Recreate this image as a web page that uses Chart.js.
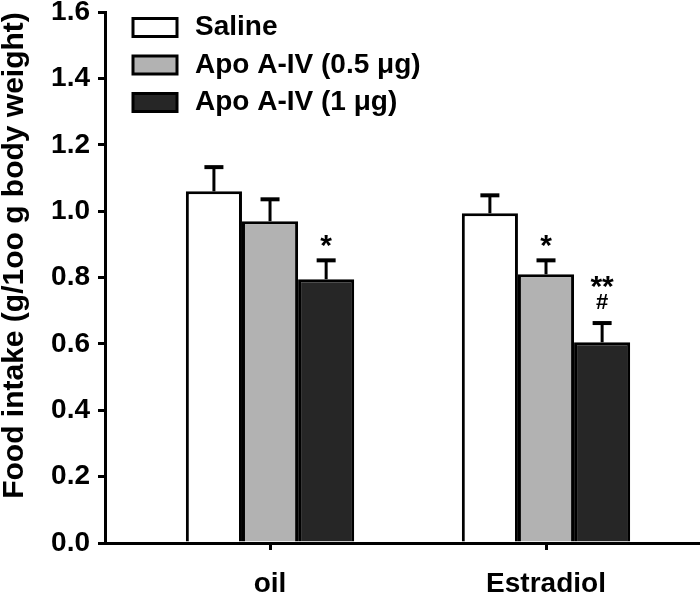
<!DOCTYPE html>
<html>
<head>
<meta charset="utf-8">
<script src="https://cdn.jsdelivr.net/npm/chart.js@4.4.1/dist/chart.umd.min.js"></script>
<style>
  html, body { margin: 0; padding: 0; background: #fff; overflow: hidden; }
  canvas { display: block; }
</style>
</head>
<body>
<canvas id="foodChart" width="700" height="596"></canvas>
<script>
/* -----------------------------
   Data
------------------------------ */
const groups = ['oil', 'Estradiol'];
const groupPos = [1, 2];
const seriesNames = ['Saline', 'Apo A-IV (0.5 \u03bcg)', 'Apo A-IV (1 \u03bcg)'];
const seriesColors = ['#ffffff', '#b2b2b2', '#262626'];

const saline = [1.06, 0.994];
const apo05 = [0.97, 0.81];
const apo1 = [0.795, 0.605];

const salineErr = [0.073, 0.054];
const apo05Err = [0.066, 0.042];
const apo1Err = [0.057, 0.058];

// significance marks above each bar (lines stacked upwards)
const salineMarks = [[], []];
const apo05Marks = [[], ['*']];
const apo1Marks = [['*'], ['#', '**']];

const yTicks = [0, 0.2, 0.4, 0.6, 0.8, 1.0, 1.2, 1.4, 1.6];
const yTitle = 'Food intake (g/1oo g body weight)';

const FONT = 'Liberation Sans, Arial, sans-serif';

/* -----------------------------
   Build datasets
------------------------------ */
const seriesValues = [saline, apo05, apo1];
const seriesErrors = [salineErr, apo05Err, apo1Err];
const seriesMarks = [salineMarks, apo05Marks, apo1Marks];

const datasets = seriesNames.map((name, i) => ({
  label: name,
  data: groupPos.map((x, j) => ({ x: x, y: seriesValues[i][j] })),
  backgroundColor: seriesColors[i],
  borderColor: '#000',
  borderWidth: 3,
  categoryPercentage: 0.61,
  barPercentage: 1.0
}));

/* -----------------------------
   Error bars + significance marks
------------------------------ */
const errorBarPlugin = {
  id: 'errorBars',
  afterDatasetsDraw(chart) {
    const ctx = chart.ctx;
    const yScale = chart.scales.y;
    ctx.save();
    ctx.strokeStyle = '#000';
    ctx.fillStyle = '#000';
    chart.data.datasets.forEach((ds, i) => {
      const meta = chart.getDatasetMeta(i);
      meta.data.forEach((bar, j) => {
        const top = yScale.getPixelForValue(seriesValues[i][j] + seriesErrors[i][j]);
        ctx.lineWidth = 3;
        ctx.beginPath();
        ctx.moveTo(bar.x, bar.y);
        ctx.lineTo(bar.x, top);
        ctx.stroke();
        ctx.lineWidth = 4;
        ctx.beginPath();
        ctx.moveTo(bar.x - 9.5, top);
        ctx.lineTo(bar.x + 9.5, top);
        ctx.stroke();

        const marks = seriesMarks[i][j];
        marks.forEach((m, k) => {
          const isHash = m === '#';
          ctx.font = 'bold ' + (isHash ? 22 : 30) + 'px ' + FONT;
          ctx.textAlign = 'center';
          ctx.textBaseline = 'middle';
          const yOff = isHash ? 20 : (k === 0 ? 14 : 35);
          ctx.fillText(m, bar.x, top - yOff);
        });
      });
    });
    ctx.restore();
  }
};

/* -----------------------------
   Legend inside the plot, top left
------------------------------ */
const legendPlugin = {
  id: 'insideLegend',
  afterDraw(chart) {
    const ctx = chart.ctx;
    ctx.save();
    chart.data.datasets.forEach((ds, i) => {
      const cy = 27.5 + i * 37.5;
      ctx.fillStyle = ds.backgroundColor;
      ctx.fillRect(133, cy - 9, 44, 18);
      ctx.lineWidth = 3;
      ctx.strokeStyle = '#000';
      ctx.strokeRect(133, cy - 9, 44, 18);
      ctx.fillStyle = '#000';
      ctx.font = 'bold 28px ' + FONT;
      ctx.textAlign = 'left';
      ctx.textBaseline = 'middle';
      ctx.fillText(ds.label, 195, cy);
    });
    ctx.restore();
  }
};

new Chart(document.getElementById('foodChart'), {
  type: 'bar',
  data: { datasets: datasets },
  options: {
    responsive: false,
    animation: false,
    devicePixelRatio: 1,
    layout: { padding: { top: 12, right: 0, bottom: 0, left: 0 } },
    plugins: {
      legend: { display: false },
      tooltip: { enabled: false }
    },
    scales: {
      x: {
        type: 'linear',
        offset: false,
        min: 0.402,
        max: 2.558,
        afterBuildTicks: s => { s.ticks = groupPos.map(v => ({ value: v })); },
        afterFit: s => { s.height = 53; },
        ticks: {
          callback: v => groups[groupPos.indexOf(v)],
          color: '#000',
          font: { family: FONT, size: 28, weight: 'bold' },
          padding: 17,
          maxRotation: 0,
          autoSkip: false
        },
        grid: { offset: false, drawOnChartArea: false, tickLength: 7, color: '#000', lineWidth: 3 },
        border: { color: '#000', width: 3 }
      },
      y: {
        min: 0,
        max: 1.6,
        afterBuildTicks: s => { s.ticks = yTicks.map(v => ({ value: v })); },
        afterFit: s => { s.width = 105; },
        ticks: {
          callback: v => v.toFixed(1),
          color: '#000',
          font: { family: FONT, size: 28, weight: 'bold', lineHeight: 0.3 },
          padding: 8
        },
        grid: { drawOnChartArea: false, tickLength: 7, color: '#000', lineWidth: 3 },
        border: { color: '#000', width: 3 },
        title: {
          display: true,
          text: yTitle,
          align: 'end',
          color: '#000',
          font: { family: FONT, size: 30, weight: 'bold', lineHeight: 1.0 },
          padding: { top: 0, bottom: 0 }
        }
      }
    }
  },
  plugins: [errorBarPlugin, legendPlugin]
});
</script>
</body>
</html>
